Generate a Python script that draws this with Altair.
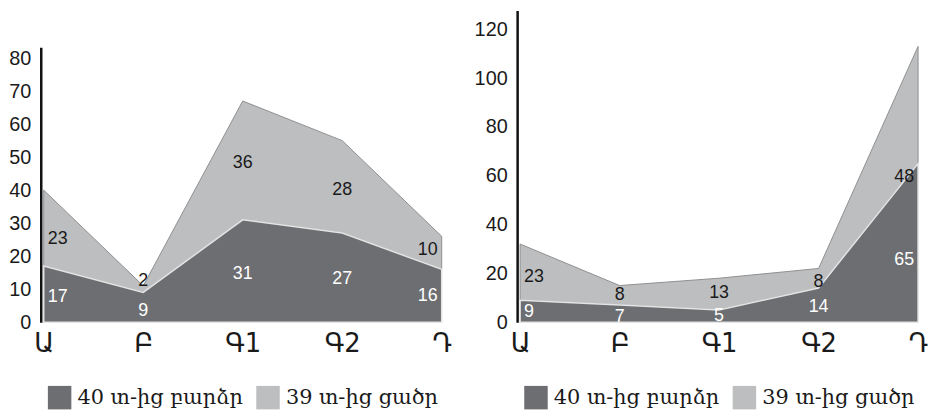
import altair as alt
import pandas as pd

cats = ["Ա", "Բ", "Գ1", "Գ2", "Դ"]
series = ["40 տ-ից բարձր", "39 տ-ից ցածր"]

# left panel values
left_dark = [17, 9, 31, 27, 16]
left_light = [23, 2, 36, 28, 10]
# right panel values
right_dark = [9, 7, 5, 14, 65]
right_light = [23, 8, 13, 8, 48]

# where the value labels sit (in data units)
left_lab_dark = [7.5, 3.3, 14.7, 13.2, 7.8]
left_lab_light = [25.3, 12.6, 48.1, 40.0, 21.7]
right_lab_dark = [4.1, 2.0, 2.4, 6.1, 25.6]
right_lab_light = [18.3, 11.0, 11.8, 16.3, 59.4]

left_ticks = [0, 10, 20, 30, 40, 50, 60, 70, 80]
right_ticks = [0, 20, 40, 60, 80, 100, 120]

DARK = "#6d6e71"
LIGHT = "#bcbec0"
SANS = "Liberation Sans, Arial, DejaVu Sans"


def panel(dark, light, lab_dark, lab_light, ymax, ticks, width, height, legend_y):
    df = pd.DataFrame({
        "cat": cats,
        "idx": list(range(len(cats))),
        "dark": dark,
        "light": light,
        "total": [a + b for a, b in zip(dark, light)],
        "ld": lab_dark,
        "ll": lab_light,
        "sd": [series[0]] * len(cats),
        "sl": [series[1]] * len(cats),
    })
    last = len(cats) - 1
    xaxis = alt.Axis(title=None, labelAngle=0, domain=False, ticks=False,
                     labelFont="DejaVu Sans", labelFontSize=26,
                     labelColor="#1a1a1a", labelPadding=9)
    xscale = alt.Scale(type="point", padding=0)
    xenc = alt.X("cat:N", sort=cats, scale=xscale, axis=xaxis)
    yscale = alt.Scale(domain=[0, ymax], nice=False, zero=True)
    yaxis = alt.Axis(title=None, values=ticks, grid=False, ticks=False,
                     domainColor="#111111", domainWidth=2.5, offset=3,
                     labelFont=SANS, labelFontSize=20, labelColor="#1a1a1a",
                     labelPadding=10, labelOverlap=False)
    cscale = alt.Scale(domain=series, range=[DARK, LIGHT])
    legend = alt.Legend(title=None, orient="none", direction="horizontal",
                        legendX=4, legendY=legend_y, symbolType="square",
                        symbolSize=560, symbolStrokeWidth=0,
                        labelFont="DejaVu Serif", labelFontSize=21,
                        labelColor="#1a1a1a", labelOffset=6, columnPadding=13,
                        padding=0, labelLimit=300)
    base = alt.Chart(df)
    top = base.mark_area(stroke="#8f8f8f", strokeWidth=1, fillOpacity=1).encode(
        x=xenc,
        y=alt.Y("total:Q", scale=yscale, axis=yaxis),
        y2="dark:Q",
        color=alt.Color("sl:N", scale=cscale, legend=legend),
    )
    bottom = base.mark_area(stroke="#e4e4e4", strokeWidth=1.5, fillOpacity=1).encode(
        x=xenc,
        y=alt.Y("dark:Q", scale=yscale, axis=yaxis),
        color=alt.Color("sd:N", scale=cscale, legend=legend),
    )

    def labels(val, pos, color):
        layers = []
        for cond, align, dx in [
            (alt.datum.idx == 0, "left", 4),
            ((alt.datum.idx > 0) & (alt.datum.idx < last), "center", 0),
            (alt.datum.idx == last, "right", -4),
        ]:
            layers.append(
                base.transform_filter(cond).mark_text(
                    align=align, dx=dx, baseline="middle", font=SANS,
                    fontSize=18, color=color
                ).encode(
                    x=xenc,
                    y=alt.Y(f"{pos}:Q", scale=yscale, axis=yaxis),
                    text=alt.Text(f"{val}:Q"),
                )
            )
        return layers

    layers = [top, bottom] + labels("dark", "ld", "#ffffff") + labels("light", "ll", "#1a1a1a")
    return alt.layer(*layers).properties(width=width, height=height)


left = panel(left_dark, left_light, left_lab_dark, left_lab_light, 83.3,
             left_ticks, 401, 277, 378)
right = panel(right_dark, right_light, right_lab_dark, right_lab_light, 127.7,
              right_ticks, 401, 314, 378)

# empty spacer that pushes the shorter left panel down so both baselines line up
spacer = alt.Chart(pd.DataFrame({"a": [0]})).mark_text(text="", fontSize=1).encode(
    x=alt.value(0), y=alt.value(0)
).properties(width=401, height=17)

left_col = alt.vconcat(spacer, left, spacing=20)

chart = alt.hconcat(left_col, right, spacing=22).resolve_scale(color="independent").properties(
    padding=0
).configure_view(stroke=None)

chart.save("out.html", embed_options={"renderer": "svg", "actions": False})
